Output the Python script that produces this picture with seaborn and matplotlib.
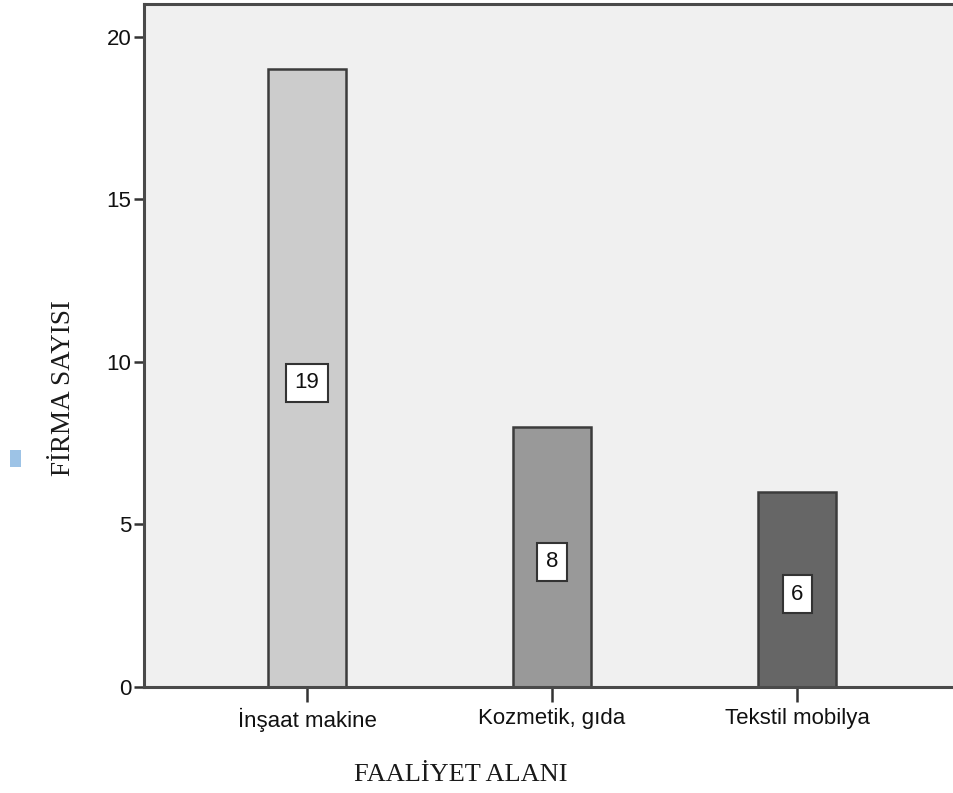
import matplotlib
matplotlib.use("Agg")
import matplotlib.pyplot as plt
import seaborn as sns
import pandas as pd

# Firm counts per field of activity
categories = ["İnşaat makine", "Kozmetik, gıda", "Tekstil mobilya"]
counts = [19, 8, 6]
bar_colors = ["#cccccc", "#999999", "#666666"]
y_ticks = [0, 5, 10, 15, 20]

df = pd.DataFrame({"alan": categories, "sayi": counts})

sns.set_theme(style="white")
plt.rcParams["font.family"] = ["Liberation Sans", "DejaVu Sans"]

fig = plt.figure(figsize=(9.54, 7.93), dpi=100)
ax = fig.add_axes([144 / 954, 106 / 793, 1 - 144 / 954, (687 - 4) / 793])
ax.set_facecolor("#f0f0f0")

sns.barplot(data=df, x="alan", y="sayi", hue="alan", palette=bar_colors,
            width=0.32, edgecolor="#3c3c3c", linewidth=1.8, legend=False, ax=ax)

# Value boxes inside each bar
for i, v in enumerate(counts):
    ax.text(i, v / 2 - 0.15, str(v), ha="center", va="center", fontsize=16,
            color="#111111",
            bbox=dict(boxstyle="square,pad=0.38", fc="white", ec="#333333", lw=1.5))

ax.set_xlim(-0.665, 2.64)
ax.set_ylim(0, 21)
ax.set_yticks(y_ticks)
ax.set_yticklabels([str(t) for t in y_ticks])

for side in ["left", "bottom", "top"]:
    ax.spines[side].set_color("#4a4a4a")
    ax.spines[side].set_linewidth(2.2)
ax.spines["right"].set_visible(False)

ax.tick_params(axis="y", direction="out", length=7, width=1.8, color="#333333",
               labelsize=16, pad=2, left=True, labelcolor="#111111")
ax.tick_params(axis="x", direction="out", length=11, width=1.8, color="#333333",
               labelsize=16, pad=4, bottom=True, labelcolor="#111111")

ax.set_xlabel("")
ax.set_ylabel("")
serif = ["Liberation Serif", "DejaVu Serif"]
fig.text(461 / 954, 1 - 775 / 793, "FAALİYET ALANI", family=serif,
         fontsize=19, color="#1a1a1a", ha="center", va="center")
fig.text(64 / 954, 1 - 388 / 793, "FİRMA SAYISI", rotation=90,
         family=serif, fontsize=19.5, color="#1a1a1a", ha="center", va="center")

# small blue marker at the left margin
fig.patches.append(matplotlib.patches.Rectangle(
    (10 / 954, 1 - 467 / 793), 11 / 954, 17 / 793, transform=fig.transFigure,
    facecolor="#9dc3e6", edgecolor="none"))

fig.savefig("out.png", dpi=100)
